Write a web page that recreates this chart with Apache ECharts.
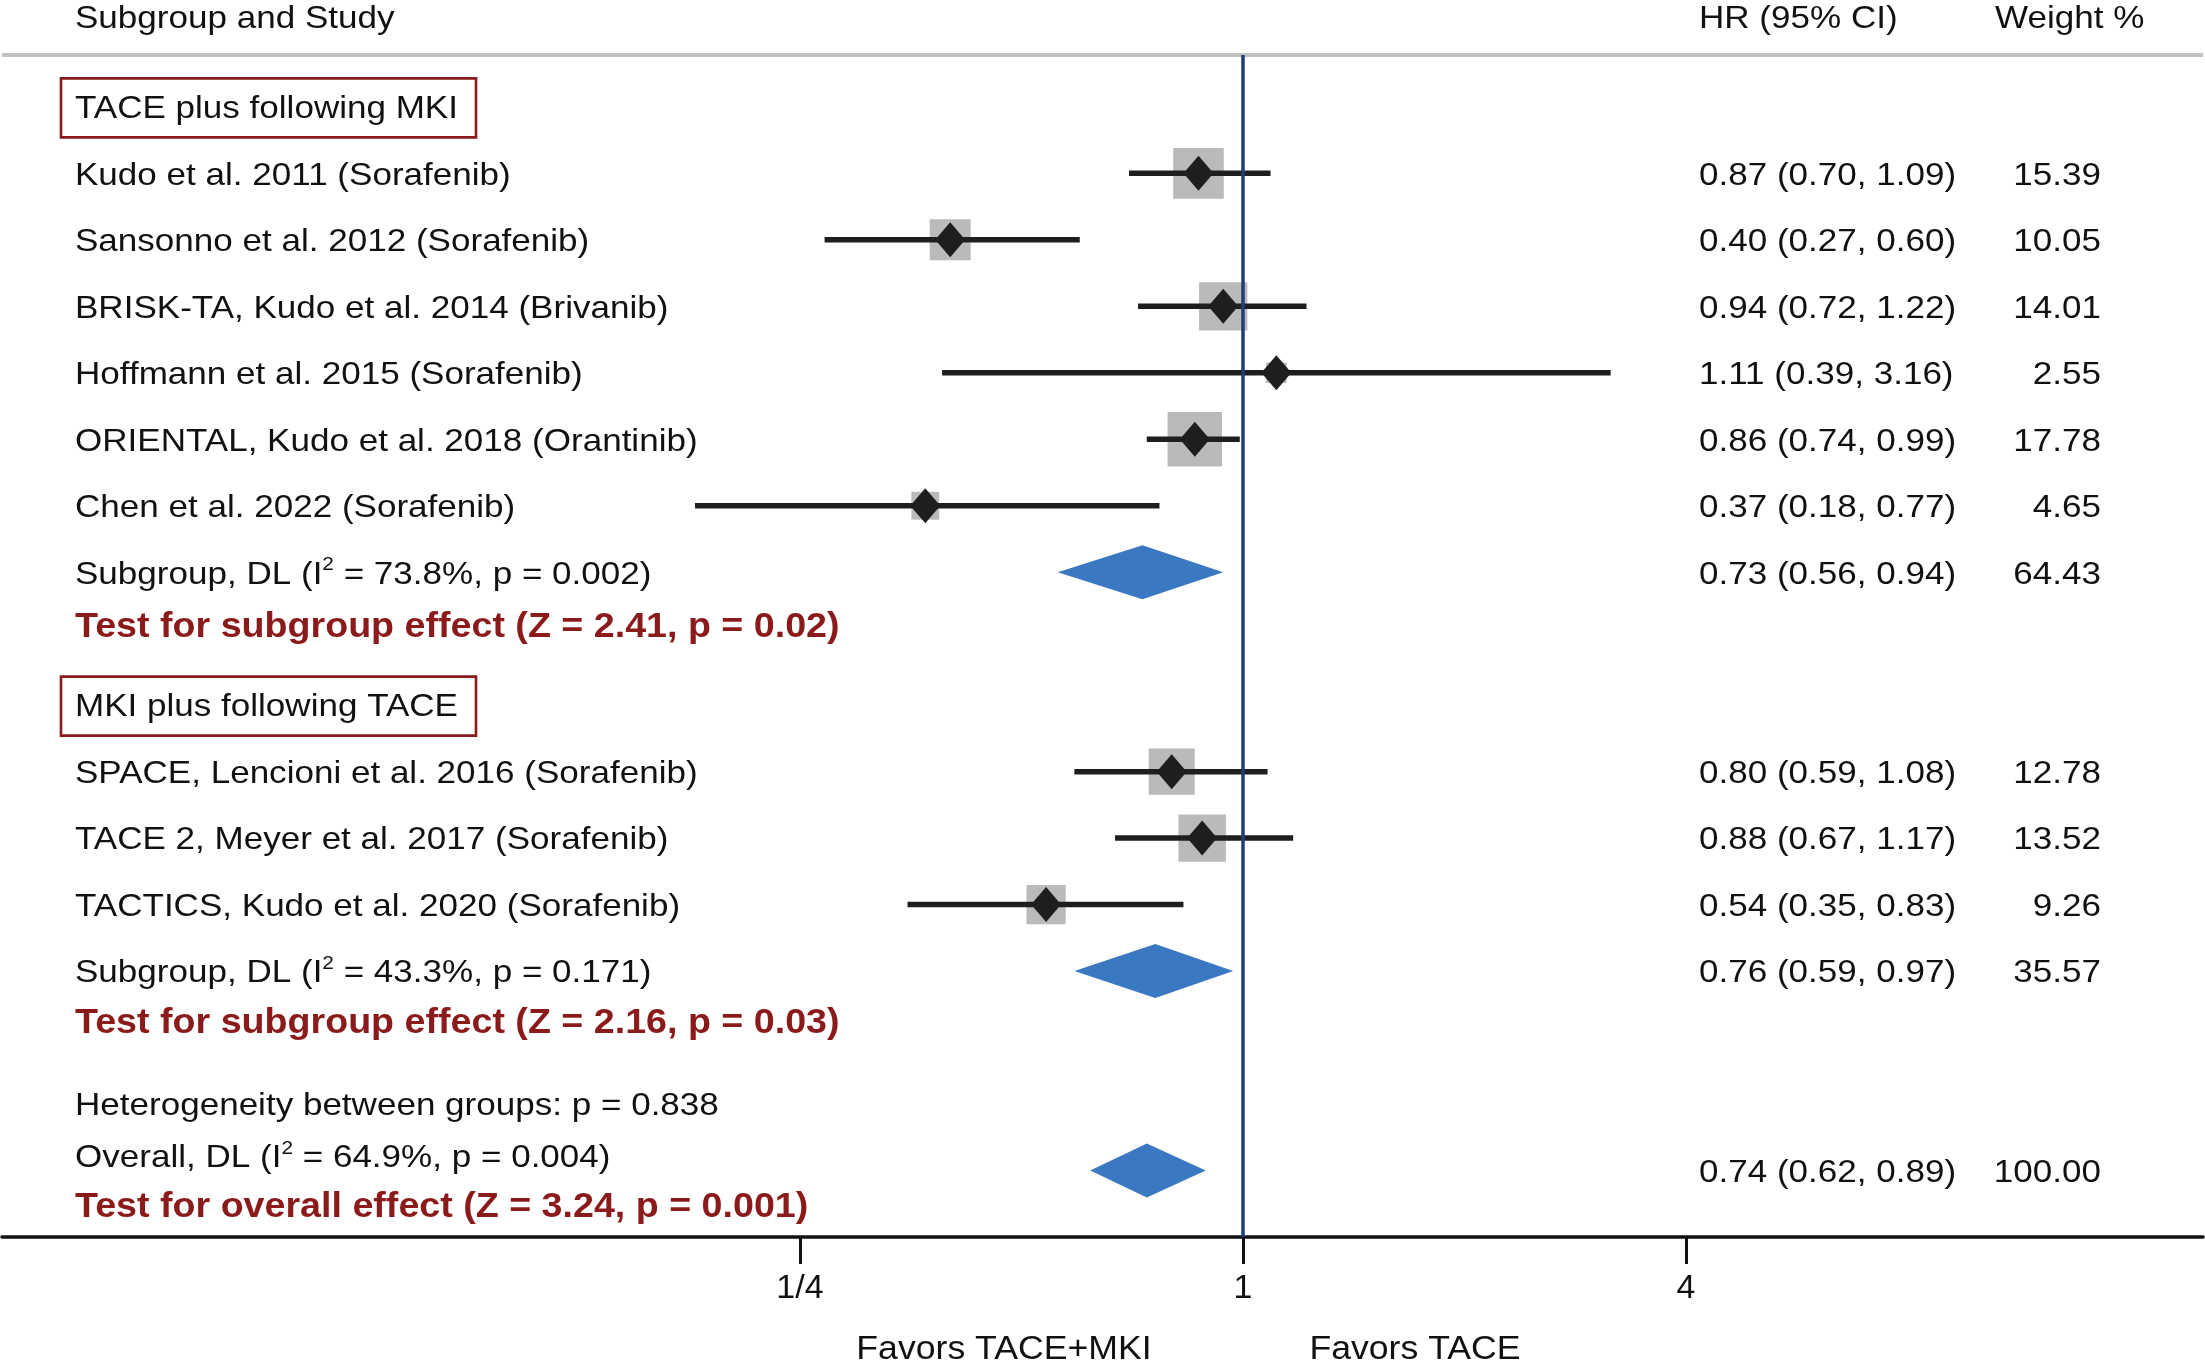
<!DOCTYPE html>
<html>
<head>
<meta charset="utf-8">
<script src="https://cdn.jsdelivr.net/npm/echarts@6/dist/echarts.min.js"></script>
<style>
html, body { margin: 0; padding: 0; background: #fff; }
#chart { width: 2205px; height: 1360px; }
</style>
</head>
<body>
<div id="chart"></div>
<script>
var studyNames = [
    'Kudo et al. 2011 (Sorafenib)',
    'Sansonno et al. 2012 (Sorafenib)',
    'BRISK-TA, Kudo et al. 2014 (Brivanib)',
    'Hoffmann et al. 2015 (Sorafenib)',
    'ORIENTAL, Kudo et al. 2018 (Orantinib)',
    'Chen et al. 2022 (Sorafenib)',
    'SPACE, Lencioni et al. 2016 (Sorafenib)',
    'TACE 2, Meyer et al. 2017 (Sorafenib)',
    'TACTICS, Kudo et al. 2020 (Sorafenib)'
];
var studyRows = [1, 2, 3, 4, 5, 6, 10, 11, 12];
var hr = [0.87, 0.40, 0.94, 1.11, 0.86, 0.37, 0.80, 0.88, 0.54];
var lo = [0.70, 0.27, 0.72, 0.39, 0.74, 0.18, 0.59, 0.67, 0.35];
var hi = [1.09, 0.60, 1.22, 3.16, 0.99, 0.77, 1.08, 1.17, 0.83];
var weight = [15.39, 10.05, 14.01, 2.55, 17.78, 4.65, 12.78, 13.52, 9.26];

var groupTitles = ['TACE plus following MKI', 'MKI plus following TACE'];
var groupRows = [0, 9];

// pooled estimates
var sumPrefix = ['Subgroup, DL', 'Subgroup, DL', 'Overall, DL'];
var sumI2 = ['73.8%', '43.3%', '64.9%'];
var sumP = ['0.002', '0.171', '0.004'];
var sumTextRows = [7, 13, 15.78];
var sumRows = [7, 13, 16];
var sumHr = [0.73, 0.76, 0.74];
var sumLo = [0.56, 0.59, 0.62];
var sumHi = [0.94, 0.97, 0.89];
var sumWeight = [64.43, 35.57, 100.00];

var testText = [
    'Test for subgroup effect (Z = 2.41, p = 0.02)',
    'Test for subgroup effect (Z = 2.16, p = 0.03)',
    'Test for overall effect (Z = 3.24, p = 0.001)'
];
var testRows = [7.77, 13.74, 16.5];
var hetText = 'Heterogeneity between groups: p = 0.838';
var hetRow = 15;

var headers = ['Subgroup and Study', 'HR (95% CI)', 'Weight %'];
var headerRow = -1.35;

var tickValues = [0.25, 1, 4];
var tickLabels = ['1/4', '1', '4'];
var favorLabels = ['Favors TACE+MKI', 'Favors TACE'];

var FONT = '"Liberation Sans", Arial, sans-serif';
var RED = '#8b1a1a';
var INK = '#111111';
var X_MIN = -5.6027, X_MAX = 4.3341;
var Y_TOP = -0.78, Y_AXIS = 17;

var chart = echarts.init(document.getElementById('chart'));

function fmt(v) { return v.toFixed(2); }

// collect every table text in one list
var texts = [];
texts.push({ row: headerRow, x: 75, text: headers[0], kind: 'plain' });
texts.push({ row: headerRow, x: 1699, text: headers[1], kind: 'plain' });
texts.push({ row: headerRow, x: 1995, text: headers[2], kind: 'plain' });
groupTitles.forEach(function (t, i) {
    texts.push({ row: groupRows[i], x: 75, text: t, kind: 'box' });
});
studyNames.forEach(function (n, i) {
    texts.push({ row: studyRows[i], x: 75, text: n, kind: 'plain' });
    texts.push({ row: studyRows[i], x: 1699, text: fmt(hr[i]) + ' (' + fmt(lo[i]) + ', ' + fmt(hi[i]) + ')', kind: 'plain' });
    texts.push({ row: studyRows[i], x: 2101, text: fmt(weight[i]), kind: 'right' });
});
sumPrefix.forEach(function (p, i) {
    texts.push({ row: sumTextRows[i], x: 75, kind: 'sup',
        text: '{a|' + p + ' (I}{s|2}{a| = ' + sumI2[i] + ', p = ' + sumP[i] + ')}' });
    texts.push({ row: sumRows[i], x: 1699, text: fmt(sumHr[i]) + ' (' + fmt(sumLo[i]) + ', ' + fmt(sumHi[i]) + ')', kind: 'plain' });
    texts.push({ row: sumRows[i], x: 2101, text: fmt(sumWeight[i]), kind: 'right' });
});
testText.forEach(function (t, i) {
    texts.push({ row: testRows[i], x: 75, text: t, kind: 'test' });
});
texts.push({ row: hetRow, x: 75, text: hetText, kind: 'plain' });

function renderText(params, api) {
    var d = texts[params.dataIndex];
    var y = api.coord([0, d.row])[1] + 2.5;
    var style = {
        text: d.text, x: 0, y: 0, fill: INK,
        font: '32px ' + FONT, align: 'left', verticalAlign: 'middle'
    };
    var el = { type: 'text', x: d.x, y: y, scaleX: 1.095, style: style };
    if (d.kind === 'right') style.align = 'right';
    if (d.kind === 'test') {
        style.fill = RED;
        style.font = 'bold 35px ' + FONT;
        el.scaleX = 1.075;
        el.y = y + 1;
    }
    if (d.kind === 'sup') {
        style.rich = {
            a: { fontSize: 32, fontFamily: FONT, fill: INK, lineHeight: 38 },
            s: { fontSize: 19, fontFamily: FONT, fill: INK, lineHeight: 18, verticalAlign: 'top' }
        };
    }
    if (d.kind === 'box') {
        return {
            type: 'group',
            children: [
                { type: 'rect', shape: { x: 61, y: y - 31, width: 415, height: 59 },
                  style: { fill: 'none', stroke: RED, lineWidth: 2.6 } },
                el
            ]
        };
    }
    return el;
}

function renderStudy(params, api) {
    var c = api.coord([api.value(0), api.value(1)]);
    var l = api.coord([api.value(2), api.value(1)]);
    var h = api.coord([api.value(3), api.value(1)]);
    var s = 12.9 * Math.sqrt(api.value(4));
    return {
        type: 'group',
        children: [
            { type: 'rect', shape: { x: c[0] - s / 2, y: c[1] - s / 2, width: s, height: s },
              style: { fill: '#bababa' } },
            { type: 'line', shape: { x1: l[0], y1: c[1], x2: h[0], y2: c[1] },
              style: { stroke: '#1e1e1e', lineWidth: 5.5 } },
            { type: 'polygon',
              shape: { points: [[c[0], c[1] - 17.5], [c[0] + 15, c[1]], [c[0], c[1] + 17.5], [c[0] - 15, c[1]]] },
              style: { fill: '#1e1e1e' } }
        ]
    };
}

function renderPooled(params, api) {
    var c = api.coord([api.value(0), api.value(1)]);
    var l = api.coord([api.value(2), api.value(1)]);
    var h = api.coord([api.value(3), api.value(1)]);
    return {
        type: 'polygon',
        shape: { points: [[l[0], c[1]], [c[0], c[1] - 27], [h[0], c[1]], [c[0], c[1] + 27]] },
        style: { fill: '#3a79c1' }
    };
}

var option = {
    backgroundColor: '#fff',
    animation: false,
    grid: { left: 2, right: 2, top: 55, bottom: 123 },
    xAxis: {
        type: 'value',
        min: X_MIN,
        max: X_MAX,
        splitLine: { show: false },
        axisLine: { show: true, onZero: false, lineStyle: { color: INK, width: 3.5 } },
        axisTick: {
            show: true, length: 27,
            customValues: tickValues.map(Math.log2),
            lineStyle: { color: INK, width: 3 }
        },
        axisLabel: {
            show: true, margin: 35,
            customValues: tickValues.map(Math.log2),
            fontFamily: FONT, fontSize: 34, color: INK,
            formatter: function (v) {
                var i = tickValues.map(Math.log2).findIndex(function (t) { return Math.abs(t - v) < 1e-6; });
                return i >= 0 ? tickLabels[i] : '';
            }
        }
    },
    yAxis: {
        type: 'value', inverse: true, min: Y_TOP, max: Y_AXIS, show: false
    },
    graphic: [
        { type: 'text', x: 1004, y: 1350, scaleX: 1.08,
          style: { text: favorLabels[0], font: '33px ' + FONT, fill: INK, align: 'center', verticalAlign: 'middle' } },
        { type: 'text', x: 1415, y: 1350, scaleX: 1.08,
          style: { text: favorLabels[1], font: '33px ' + FONT, fill: INK, align: 'center', verticalAlign: 'middle' } }
    ],
    series: [
        {
            type: 'line', silent: true, symbol: 'none',
            data: [[X_MIN, Y_TOP], [X_MAX, Y_TOP]],
            lineStyle: { color: '#c2c2c2', width: 4 }
        },
        {
            type: 'custom', renderItem: renderStudy, silent: true,
            encode: { x: 0, y: 1 },
            data: studyRows.map(function (r, i) {
                return [Math.log2(hr[i]), r, Math.log2(lo[i]), Math.log2(hi[i]), weight[i]];
            })
        },
        {
            type: 'custom', renderItem: renderPooled, silent: true,
            encode: { x: 0, y: 1 },
            data: sumRows.map(function (r, i) {
                return [Math.log2(sumHr[i]), r, Math.log2(sumLo[i]), Math.log2(sumHi[i])];
            })
        },
        {
            type: 'custom', renderItem: renderText, silent: true, clip: false,
            encode: { x: 0, y: 1 },
            data: texts.map(function (d) { return [0, d.row]; })
        },
        {
            type: 'line', silent: true, symbol: 'none', z: 5,
            data: [[0, Y_TOP], [0, Y_AXIS]],
            lineStyle: { color: '#1f3d7a', width: 3.5 }
        }
    ]
};

chart.setOption(option);
</script>
</body>
</html>
